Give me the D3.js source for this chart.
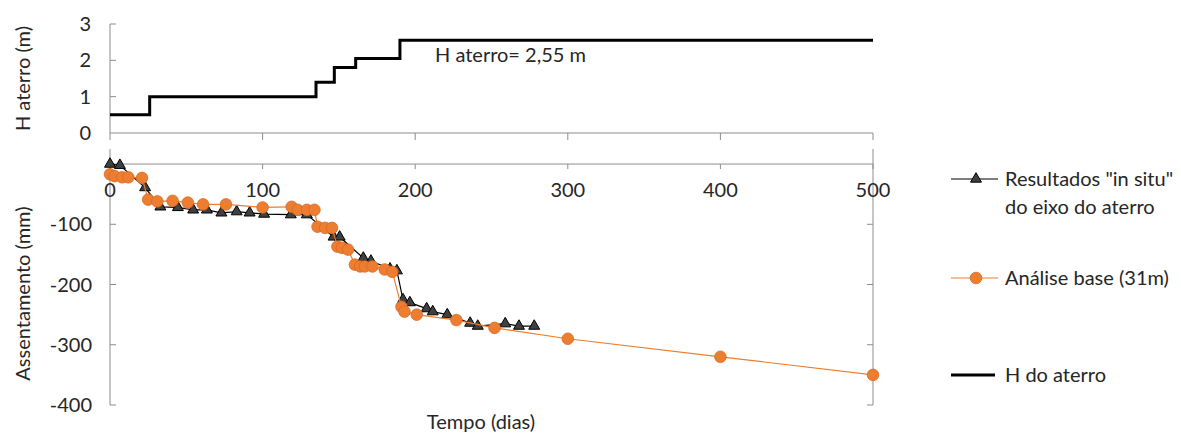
<!DOCTYPE html>
<html><head><meta charset="utf-8">
<script src="https://cdn.jsdelivr.net/npm/d3@7"></script>
<style>
html,body{margin:0;padding:0;background:#fff;}
svg text{font-family:Lato,"Open Sans",sans-serif;fill:#262626;}
</style></head>
<body>
<script>
// ---- data ----
const fillTimes   = [0, 26, 135, 147, 161, 190, 500];
const fillHeights = [0.5, 1.0, 1.4, 1.8, 2.05, 2.55, 2.55];

const insituTimes = [0, 6.5, 23, 33, 44.5, 54.5, 63.5, 73, 83, 91.5, 101, 118.5, 129, 146.5, 150.5, 166, 171, 183.5, 188, 192, 196.5, 207.5, 211.5, 221, 236, 241, 259, 268, 278];
const insituVals  = [0, -2, -39, -71, -72, -76, -76, -81, -79, -81, -83, -84, -84, -121, -121, -156, -161, -174, -177, -225, -230, -240, -245, -250, -264, -269, -265, -269, -269];

const baseTimes = [0, 3, 8, 12, 21, 25, 31, 41, 51, 61, 76, 100, 119, 123, 129, 134, 136, 141, 145.5, 149, 152, 156, 160.5, 164, 167, 172, 180, 185, 191, 193, 201, 227, 252, 300, 400, 500];
const baseVals  = [-17, -20, -22, -22, -23, -59, -62, -61, -64, -67, -67, -72, -71, -76, -76, -76, -104, -106, -106, -137, -139, -142, -167, -170, -170, -170, -175, -179, -237, -245, -250, -259, -272, -290, -320, -350];

const xTicks = [0, 100, 200, 300, 400, 500];
const hTicks = [0, 1, 2, 3];
const sTicks = [-100, -200, -300, -400];

const W = 1181, H = 433;
const FS = 20;
const axisCol = "#8c8c8c";
const orange = "#ED7D31";

const svg = d3.select("body").append("svg").attr("width", W).attr("height", H);

const x = d3.scaleLinear().domain([0, 500]).range([110, 873]);
const yH = d3.scaleLinear().domain([0, 3]).range([133, 24]);
const yS = d3.scaleLinear().domain([-400, 25]).range([405, 149]);

// ---- top panel axes ----
const gTop = svg.append("g");
gTop.append("line").attr("x1", x(0)).attr("x2", x(500)).attr("y1", yH(0)).attr("y2", yH(0)).attr("stroke", axisCol);
gTop.append("line").attr("x1", x(0)).attr("x2", x(0)).attr("y1", yH(0)).attr("y2", yH(3)).attr("stroke", axisCol);
gTop.selectAll(".ht").data(hTicks.filter(d => d > 0)).join("line")
  .attr("x1", x(0)).attr("x2", x(0) + 6).attr("y1", d => yH(d)).attr("y2", d => yH(d)).attr("stroke", axisCol);
gTop.selectAll(".xtt").data(xTicks).join("line")
  .attr("x1", d => x(d)).attr("x2", d => x(d)).attr("y1", yH(0)).attr("y2", yH(0) + 7).attr("stroke", axisCol);
gTop.selectAll(".hl").data(hTicks).join("text")
  .attr("x", 91).attr("y", d => yH(d)).attr("dy", "0.35em").attr("text-anchor", "end")
  .attr("font-size", FS).text(d => d);

const stepLine = d3.line().x(d => x(d[0])).y(d => yH(d[1])).curve(d3.curveStepAfter);
gTop.append("path").datum(fillTimes.map((t, i) => [t, fillHeights[i]]))
  .attr("d", stepLine).attr("fill", "none").attr("stroke", "#000").attr("stroke-width", 3);

gTop.append("text").attr("x", 435).attr("y", 55).attr("dy", "0.35em").attr("font-size", FS).text("H aterro= 2,55 m");

svg.append("text").attr("transform", `translate(23,${yH(1.5)}) rotate(-90)`).attr("text-anchor", "middle")
  .attr("dy", "0.35em").attr("font-size", FS).text("H aterro (m)");

// ---- bottom panel axes ----
const gB = svg.append("g");
gB.append("line").attr("x1", x(0)).attr("x2", x(0)).attr("y1", yS(25)).attr("y2", yS(-400)).attr("stroke", axisCol);
gB.append("line").attr("x1", x(500)).attr("x2", x(500)).attr("y1", yS(25)).attr("y2", yS(-400)).attr("stroke", axisCol);
gB.selectAll(".lt").data(sTicks).join("line")
  .attr("x1", x(0)).attr("x2", x(0) + 6).attr("y1", d => yS(d)).attr("y2", d => yS(d)).attr("stroke", axisCol);
gB.selectAll(".rt").data(sTicks).join("line")
  .attr("x1", x(500)).attr("x2", x(500) - 6).attr("y1", d => yS(d)).attr("y2", d => yS(d)).attr("stroke", axisCol);
gB.append("line").attr("x1", x(0)).attr("x2", x(500)).attr("y1", yS(0)).attr("y2", yS(0)).attr("stroke", axisCol);
gB.selectAll(".bt").data(xTicks).join("line")
  .attr("x1", d => x(d)).attr("x2", d => x(d)).attr("y1", yS(0)).attr("y2", yS(0) + 5).attr("stroke", axisCol);
gB.selectAll(".sl").data(sTicks).join("text")
  .attr("x", 92).attr("y", d => yS(d)).attr("dy", "0.35em").attr("text-anchor", "end")
  .attr("font-size", FS).text(d => d);
gB.selectAll(".xl").data(xTicks).join("text")
  .attr("x", d => x(d)).attr("y", 190).attr("dy", "0.35em").attr("text-anchor", "middle")
  .attr("font-size", FS).text(d => d);

svg.append("text").attr("transform", `translate(23,${yS(-215)}) rotate(-90)`).attr("text-anchor", "middle")
  .attr("dy", "0.35em").attr("font-size", FS).text("Assentamento (mm)");
svg.append("text").attr("x", 481).attr("y", 422).attr("dy", "0.35em").attr("text-anchor", "middle")
  .attr("font-size", FS).text("Tempo (dias)");

// ---- series ----
const line = d3.line().x(d => x(d[0])).y(d => yS(d[1]));
const insitu = insituTimes.map((t, i) => [t, insituVals[i]]);
const base = baseTimes.map((t, i) => [t, baseVals[i]]);
const tri = d3.symbol().type(d3.symbolTriangle).size(52);

svg.append("path").datum(insitu).attr("d", line).attr("fill", "none").attr("stroke", "#000").attr("stroke-width", 1.2);
svg.selectAll(".tri").data(insitu).join("path")
  .attr("transform", d => `translate(${x(d[0])},${yS(d[1])})`).attr("d", tri)
  .attr("fill", "#404040").attr("stroke", "#000").attr("stroke-width", 1);

svg.append("path").datum(base).attr("d", line).attr("fill", "none").attr("stroke", orange).attr("stroke-width", 1.2);
svg.selectAll(".cir").data(base).join("circle")
  .attr("cx", d => x(d[0])).attr("cy", d => yS(d[1])).attr("r", 5.8)
  .attr("fill", orange).attr("stroke", "#d8691f").attr("stroke-width", 0.8);

// ---- legend ----
const lg = svg.append("g");
lg.append("line").attr("x1", 951).attr("x2", 998).attr("y1", 179).attr("y2", 179).attr("stroke", "#000").attr("stroke-width", 1.2);
lg.append("path").attr("transform", "translate(976,179)").attr("d", tri).attr("fill", "#404040").attr("stroke", "#000");
lg.append("text").attr("x", 1005).attr("y", 179).attr("dy", "0.35em").attr("font-size", FS).text('Resultados "in situ"');
lg.append("text").attr("x", 1005).attr("y", 207).attr("dy", "0.35em").attr("font-size", FS).text("do eixo do aterro");

lg.append("line").attr("x1", 951).attr("x2", 998).attr("y1", 278).attr("y2", 278).attr("stroke", orange).attr("stroke-width", 1.2);
lg.append("circle").attr("cx", 976).attr("cy", 278).attr("r", 5.8).attr("fill", orange).attr("stroke", "#d8691f").attr("stroke-width", 0.8);
lg.append("text").attr("x", 1005).attr("y", 278).attr("dy", "0.35em").attr("font-size", FS).text("Análise base (31m)");

lg.append("line").attr("x1", 951).attr("x2", 995).attr("y1", 375).attr("y2", 375).attr("stroke", "#000").attr("stroke-width", 3);
lg.append("text").attr("x", 1005).attr("y", 375).attr("dy", "0.35em").attr("font-size", FS).text("H do aterro");
</script>
</body></html>
